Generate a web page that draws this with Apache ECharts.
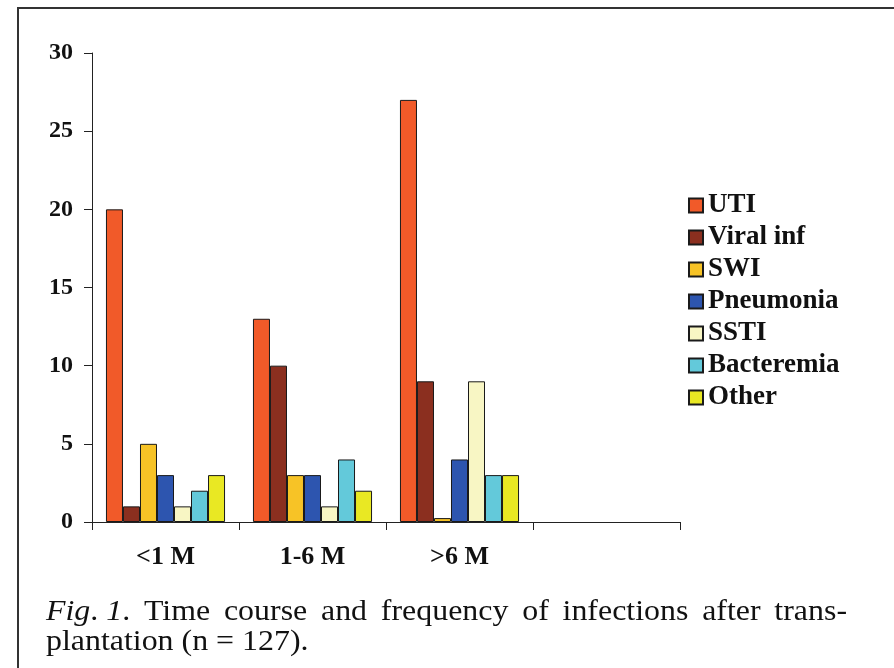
<!DOCTYPE html>
<html>
<head>
<meta charset="utf-8">
<script src="https://cdn.jsdelivr.net/npm/echarts@6/dist/echarts.min.js"></script>
<style>
  html, body { margin: 0; padding: 0; background: #fff; }
  #chart { width: 894px; height: 668px; }
</style>
</head>
<body>
<div id="chart"></div>
<script>
// Infection counts by time after transplantation
const categories = ['<1 M', '1-6 M', '>6 M', ''];
const seriesNames = ['UTI', 'Viral inf', 'SWI', 'Pneumonia', 'SSTI', 'Bacteremia', 'Other'];
const uti        = [20, 13, 27];
const viralInf   = [1, 10, 9];
const swi        = [5, 3, 0.25];
const pneumonia  = [3, 3, 4];
const ssti       = [1, 1, 9];
const bacteremia = [2, 4, 3];
const other      = [3, 2, 3];
const yTicks = [0, 5, 10, 15, 20, 25, 30];

const seriesValues = [uti, viralInf, swi, pneumonia, ssti, bacteremia, other];
const seriesColors = ['#F15A29', '#8B2F1F', '#F7C326', '#2D55AF', '#F8F6C4', '#63C9DA', '#E9E823'];

const SERIF = '"Liberation Serif", "Times New Roman", serif';

const chart = echarts.init(document.getElementById('chart'), null, { renderer: 'canvas' });

// Caption, justified across the first line; the face is set slightly wide
const captionLine1 = [
  { parts: [{ t: 'Fig', s: 'i' }, { t: '. ', s: 'r' }, { t: '1', s: 'i' }, { t: '.', s: 'r' }] },
  { parts: [{ t: 'Time', s: 'r' }] },
  { parts: [{ t: 'course', s: 'r' }] },
  { parts: [{ t: 'and', s: 'r' }] },
  { parts: [{ t: 'frequency', s: 'r' }] },
  { parts: [{ t: 'of', s: 'r' }] },
  { parts: [{ t: 'infections', s: 'r' }] },
  { parts: [{ t: 'after', s: 'r' }] },
  { parts: [{ t: 'trans-', s: 'r' }] }
];
const captionLine2 = 'plantation (n = 127).';
const capSize = 29;
const capStretch = 1.1;
const capLeft = 46, capRight = 847;
const capY1 = 627, capY2 = 657;

const ctx = document.createElement('canvas').getContext('2d');
function measure(text, style) {
  ctx.font = (style === 'i' ? 'italic ' : '') + capSize + 'px ' + SERIF;
  return ctx.measureText(text).width * capStretch;
}
const wordWidths = captionLine1.map(w => w.parts.reduce((a, p) => a + measure(p.t, p.s), 0));
const totalW = wordWidths.reduce((a, b) => a + b, 0);
const gap = (capRight - capLeft - totalW) / (captionLine1.length - 1);

const richStyles = {
  i: { fontFamily: SERIF, fontSize: capSize, fontStyle: 'italic', fill: '#111' },
  r: { fontFamily: SERIF, fontSize: capSize, fill: '#111' }
};

const captionElements = [];
let cx = capLeft;
captionLine1.forEach((w, i) => {
  const rich = w.parts.map(p => '{' + p.s + '|' + p.t + '}').join('');
  captionElements.push({
    type: 'text',
    x: cx, y: capY1,
    scaleX: capStretch,
    style: { text: rich, verticalAlign: 'bottom', rich: richStyles }
  });
  cx += wordWidths[i] + gap;
});
captionElements.push({
  type: 'text',
  x: capLeft, y: capY2,
  scaleX: capStretch,
  style: {
    text: captionLine2,
    font: capSize + 'px ' + SERIF,
    fill: '#111',
    verticalAlign: 'bottom'
  }
});

const option = {
  animation: false,
  backgroundColor: '#fff',
  color: seriesColors,
  grid: { left: 92, top: 53, right: 214, bottom: 146, containLabel: false },
  legend: {
    orient: 'vertical',
    left: 688,
    top: 192,
    padding: 0,
    itemWidth: 14,
    itemHeight: 14,
    itemGap: 5,
    itemTextGap: 5,
    icon: 'rect',
    data: seriesNames,
    textStyle: {
      fontFamily: SERIF,
      fontWeight: 'bold',
      fontSize: 27,
      lineHeight: 26,
      color: '#111'
    }
  },
  xAxis: {
    type: 'category',
    data: categories,
    axisLine: { show: true, lineStyle: { color: '#222', width: 1 } },
    axisTick: { show: true, length: 8, lineStyle: { color: '#222' } },
    axisLabel: {
      margin: 22,
      fontFamily: SERIF,
      fontWeight: 'bold',
      fontSize: 26,
      color: '#111'
    },
    splitLine: { show: false }
  },
  yAxis: {
    type: 'value',
    min: yTicks[0],
    max: yTicks[yTicks.length - 1],
    interval: yTicks[1] - yTicks[0],
    axisLine: { show: true, lineStyle: { color: '#222', width: 1 } },
    axisTick: { show: true, length: 8, lineStyle: { color: '#222' } },
    axisLabel: {
      margin: 19,
      fontFamily: SERIF,
      fontWeight: 'bold',
      fontSize: 24,
      color: '#111'
    },
    splitLine: { show: false }
  },
  series: seriesNames.map((name, i) => ({
    name: name,
    type: 'bar',
    data: seriesValues[i],
    barGap: '0%',
    barCategoryGap: '19%',
    itemStyle: { color: seriesColors[i], borderColor: '#1a1a1a', borderWidth: 1 }
  })),
  graphic: [
    {
      type: 'rect',
      shape: { x: 18, y: 8, width: 900, height: 700 },
      style: { fill: 'none', stroke: '#333', lineWidth: 2 },
      silent: true
    }
  ].concat(captionElements)
};

chart.setOption(option);
</script>
</body>
</html>
